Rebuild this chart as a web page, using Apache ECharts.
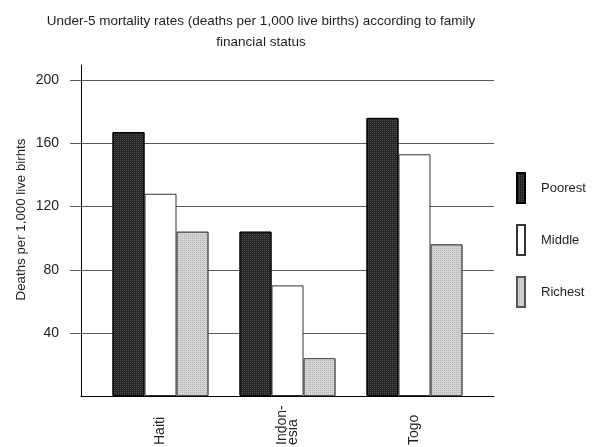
<!DOCTYPE html>
<html>
<head>
<meta charset="utf-8">
<script src="https://cdn.jsdelivr.net/npm/echarts@6/dist/echarts.min.js"></script>
<style>
  html, body { margin: 0; padding: 0; background: #fff; }
  #chart { width: 592px; height: 447px; }
</style>
</head>
<body>
<div id="chart"></div>
<script>
// data
const countries = ['Haiti', 'Indon-\nesia', 'Togo']
const poorest = [167, 104, 176]
const middle = [128, 70, 153]
const richest = [104, 24, 96]
const yTicks = [40, 80, 120, 160, 200]

const font = "'Liberation Sans', Arial, sans-serif"
const ink = '#1e1e1e'

const chart = echarts.init(document.getElementById('chart'))

const barBase = {
    type: 'bar',
    xAxisIndex: 2,
    yAxisIndex: 2,
    barWidth: 32,
    barGap: '0%'
}

chart.setOption({
    animation: false,
    title: {
        text: 'Under-5 mortality rates (deaths per 1,000 live births) according to family\nfinancial status',
        left: 256,
        top: 6,
        textAlign: 'center',
        textStyle: {
            fontFamily: font,
            fontSize: 13.5,
            fontWeight: 'normal',
            lineHeight: 21,
            color: ink
        }
    },
    legend: {
        orient: 'vertical',
        left: 516,
        top: 172,
        padding: 0,
        itemWidth: 8,
        itemHeight: 30,
        itemGap: 20,
        icon: 'rect',
        textStyle: {
            fontFamily: font,
            fontSize: 13,
            color: ink,
            padding: [0, 0, 0, 11]
        },
        data: ['Poorest', 'Middle', 'Richest']
    },
    grid: [
        // gridlines + tick labels
        { left: 70, right: 98, top: 80, bottom: 114, outerBoundsMode: 'none' },
        // the two axis lines
        { left: 81, right: 98, top: 65, bottom: 51, outerBoundsMode: 'none' },
        // bars
        { left: 97, right: 114, top: 80, bottom: 51, outerBoundsMode: 'none' }
    ],
    xAxis: [
        { gridIndex: 0, type: 'value', show: false },
        {
            gridIndex: 1, type: 'value', min: 0, max: 1,
            axisLine: { show: true, lineStyle: { color: '#000', width: 1 } },
            axisTick: { show: false }, axisLabel: { show: false }, splitLine: { show: false }
        },
        {
            gridIndex: 2,
            type: 'category',
            data: countries,
            axisLine: { show: false },
            axisTick: { show: false },
            axisLabel: {
                rotate: 90,
                align: 'left',
                margin: 49,
                fontFamily: font,
                fontSize: 14,
                lineHeight: 11,
                color: ink
            }
        }
    ],
    yAxis: [
        {
            gridIndex: 0,
            type: 'value',
            min: yTicks[0],
            max: yTicks[yTicks.length - 1],
            interval: 40,
            axisLine: { show: false },
            axisTick: { show: false },
            axisLabel: {
                margin: 11,
                fontFamily: font,
                fontSize: 14,
                color: ink
            },
            splitLine: { lineStyle: { color: '#5a5a5a', width: 1 } }
        },
        {
            gridIndex: 1,
            type: 'value',
            min: 0,
            max: 1,
            name: 'Deaths per 1,000 live birhts',
            nameLocation: 'middle',
            nameGap: 53,
            nameTextStyle: {
                fontFamily: font,
                fontSize: 13.3,
                color: ink,
                padding: [0, 0, 0, 22]
            },
            axisLine: { show: true, lineStyle: { color: '#000', width: 1 } },
            axisTick: { show: false },
            axisLabel: { show: false },
            splitLine: { show: false }
        },
        { gridIndex: 2, type: 'value', min: 0, max: 200, show: false }
    ],
    series: [
        Object.assign({}, barBase, {
            name: 'Poorest',
            data: poorest,
            itemStyle: {
                color: '#262626', borderColor: '#000', borderWidth: 1,
                decal: { symbol: 'rect', symbolSize: 1, dashArrayX: [1, 1], dashArrayY: [1, 1], color: 'rgba(140,140,140,0.4)' }
            }
        }),
        Object.assign({}, barBase, {
            name: 'Middle',
            data: middle,
            itemStyle: { color: '#ffffff', borderColor: '#333', borderWidth: 1 }
        }),
        Object.assign({}, barBase, {
            name: 'Richest',
            data: richest,
            itemStyle: {
                color: '#d4d4d4', borderColor: '#555', borderWidth: 1,
                decal: { symbol: 'rect', symbolSize: 1, dashArrayX: [1, 1], dashArrayY: [1, 1], color: 'rgba(120,120,120,0.35)' }
            }
        })
    ]
})

window.addEventListener('resize', function () {
    chart.resize()
})
</script>
</body>
</html>
